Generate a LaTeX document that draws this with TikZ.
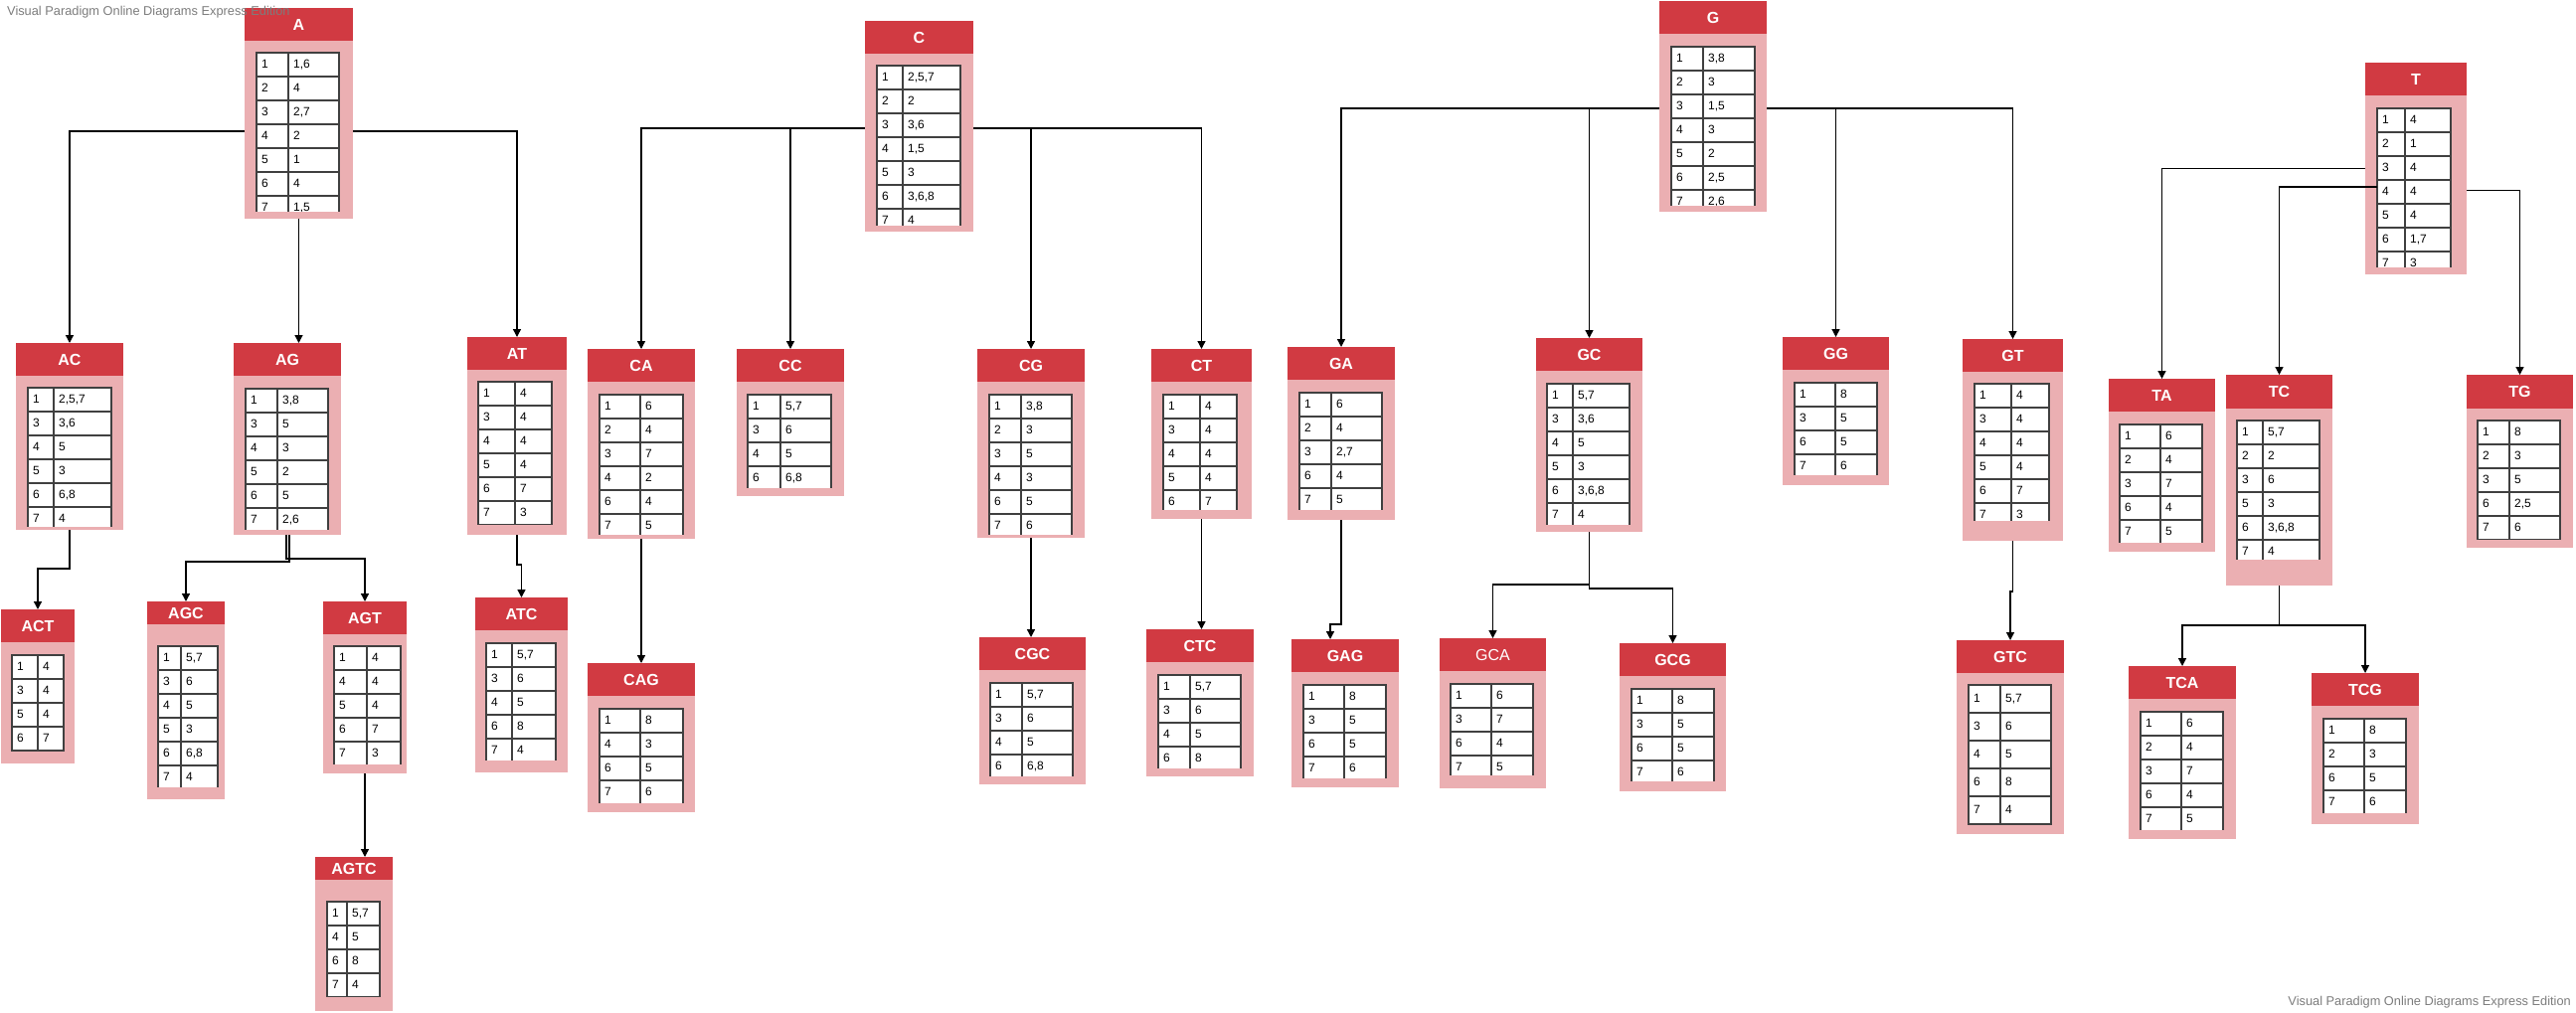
\documentclass[tikz,border=0pt]{standalone}
\usepackage{fontspec}
\setmainfont{Liberation Sans}
\usetikzlibrary{arrows.meta,backgrounds}
\definecolor{hdrred}{RGB}{209,58,66}
\definecolor{bodypink}{RGB}{235,175,178}
\definecolor{cellline}{RGB}{64,64,64}
\definecolor{wmgray}{RGB}{125,125,125}
\tikzset{
  bodybox/.style={fill=bodypink, draw=none, inner sep=0pt, outer sep=0pt, anchor=north west},
  hdrbox/.style={fill=hdrred, draw=none, inner sep=0pt, outer sep=0pt, anchor=north west, text=white, font=\fontsize{16}{18}\selectfont\bfseries},
  cellbox/.style={fill=white, draw=cellline, line width=2pt},
  celltxt/.style={anchor=west, inner sep=0pt, text height=8.6pt, text depth=1pt, font=\fontsize{12}{14}\selectfont},
  conn/.style={draw=black, line width=1.4pt, -{Triangle[length=8pt,width=8pt]}},
  wm/.style={text=wmgray, inner sep=0pt, font=\fontsize{12.8}{14}\selectfont},
}
% name, x1, x2, top, header bottom, bottom, label
\newcommand{\ebox}[7]{%
  \node[bodybox, minimum width={#3-#2}, minimum height={#6-#4}] (#1) at (#2,#4) {};
  \node[hdrbox, minimum width={#3-#2}, minimum height={#5-#4}] (#1-h) at (#2,#4) {#7};
}
% x1, column, x2, top, row height, clip bottom, rows
\newcommand{\etab}[7]{%
  \begin{scope}
    \clip (#1-2,#4-2) rectangle (#3+2,#6);
    \foreach \a/\b [count=\i] in {#7}{
      \pgfmathsetmacro\yt{#4+(\i-1)*#5}
      \draw[cellbox] (#1,\yt) rectangle (#2,\yt+#5);
      \draw[cellbox] (#2,\yt) rectangle (#3,\yt+#5);
      \node[celltxt] (cell-#1-#4-\i-a) at (#1+5,\yt+#5/2) {\a};
      \node[celltxt] (cell-#1-#4-\i-b) at (#2+5,\yt+#5/2) {\b};
    }
  \end{scope}
}
\begin{document}
\begin{tikzpicture}[x=1pt,y=-1pt]
\useasboundingbox (0,0) rectangle (2591,1019);

% ---------- A family ----------
\ebox{A}{246}{355}{8}{41}{220}{A}
\etab{258}{290}{341}{53}{24}{213}{1/{1,6},2/4,3/{2,7},4/2,5/1,6/4,7/{1,5}}
\ebox{AC}{16}{124}{345}{378}{533}{AC}
\etab{28}{54}{112}{390}{24}{529}{1/{2,5,7},3/{3,6},4/5,5/3,6/{6,8},7/4}
\ebox{AG}{235}{343}{345}{378}{538}{AG}
\etab{247}{279}{330}{391}{24}{532}{1/{3,8},3/5,4/3,5/2,6/5,7/{2,6}}
\ebox{AT}{470}{570}{339}{372}{538}{AT}
\etab{481}{518}{555}{384}{24}{527}{1/4,3/4,4/4,5/4,6/7,7/3}
\ebox{ACT}{1}{75}{613}{646}{768}{ACT}
\etab{12}{38}{64}{659}{24}{757}{1/4,3/4,5/4,6/7}
\ebox{AGC}{148}{226}{605}{628}{804}{AGC}
\etab{159}{182}{219}{650}{24}{791}{1/{5,7},3/6,4/5,5/3,6/{6,8},7/4}
\ebox{AGT}{325}{409}{605}{638}{778}{AGT}
\etab{336}{369}{403}{650}{24}{768}{1/4,4/4,5/4,6/7,7/3}
\ebox{AGTC}{317}{395}{862}{885}{1017}{AGTC}
\etab{329}{349}{382}{907}{24}{1002}{1/{5,7},4/5,6/8,7/4}
\ebox{ATC}{478}{571}{601}{634}{777}{ATC}
\etab{489}{515}{559}{647}{24}{764}{1/{5,7},3/6,4/5,6/8,7/4}

% ---------- C family ----------
\ebox{C}{870}{979}{21}{54}{233}{C}
\etab{882}{908}{966}{66}{24}{227}{1/{2,5,7},2/2,3/{3,6},4/{1,5},5/3,6/{3,6,8},7/4}
\ebox{CA}{591}{699}{351}{384}{542}{CA}
\etab{603}{644}{687}{397}{24}{537}{1/6,2/4,3/7,4/2,6/4,7/5}
\ebox{CC}{741}{849}{351}{384}{499}{CC}
\etab{752}{785}{836}{397}{24}{490}{1/{5,7},3/6,4/5,6/{6,8}}
\ebox{CG}{983}{1091}{351}{384}{541}{CG}
\etab{995}{1027}{1078}{397}{24}{537}{1/{3,8},2/3,3/5,4/3,6/5,7/6}
\ebox{CT}{1158}{1259}{351}{384}{522}{CT}
\etab{1170}{1207}{1244}{397}{24}{512}{1/4,3/4,4/4,5/4,6/7}
\ebox{CAG}{591}{699}{667}{700}{817}{CAG}
\etab{603}{644}{687}{713}{24}{807}{1/8,4/3,6/5,7/6}
\ebox{CGC}{985}{1092}{641}{674}{789}{CGC}
\etab{996}{1028}{1079}{687}{24}{780}{1/{5,7},3/6,4/5,6/{6,8}}
\ebox{CTC}{1153}{1261}{633}{666}{781}{CTC}
\etab{1165}{1197}{1248}{679}{24}{772}{1/{5,7},3/6,4/5,6/8}

% ---------- G family ----------
\ebox{G}{1669}{1777}{1}{34}{213}{G}
\etab{1681}{1713}{1765}{47}{24}{207}{1/{3,8},2/3,3/{1,5},4/3,5/2,6/{2,5},7/{2,6}}
\ebox{GA}{1295}{1403}{349}{382}{523}{GA}
\etab{1307}{1339}{1390}{395}{24}{512}{1/6,2/4,3/{2,7},6/4,7/5}
\ebox{GAG}{1299}{1407}{643}{676}{792}{GAG}
\etab{1311}{1352}{1394}{689}{24}{782}{1/8,3/5,6/5,7/6}
\ebox{GC}{1545}{1652}{340}{373}{535}{GC}
\etab{1556}{1582}{1639}{386}{24}{527}{1/{5,7},3/{3,6},4/5,5/3,6/{3,6,8},7/4}
\ebox{GCA}{1448}{1555}{642}{675}{793}{\mdseries GCA}
\etab{1459}{1500}{1542}{688}{24}{779}{1/6,3/7,6/4,7/5}
\ebox{GCG}{1629}{1736}{647}{680}{796}{GCG}
\etab{1641}{1682}{1724}{693}{24}{785}{1/8,3/5,6/5,7/6}
\ebox{GG}{1793}{1900}{339}{372}{488}{GG}
\etab{1805}{1846}{1888}{385}{24}{477}{1/8,3/5,6/5,7/6}
\ebox{GT}{1974}{2075}{341}{374}{544}{GT}
\etab{1986}{2023}{2061}{386}{24}{523}{1/4,3/4,4/4,5/4,6/7,7/3}
\ebox{GTC}{1968}{2076}{644}{677}{839}{GTC}
\etab{1980}{2012}{2063}{689}{28}{831}{1/{5,7},3/6,4/5,6/8,7/4}

% ---------- T family ----------
\ebox{T}{2379}{2481}{63}{96}{276}{T}
\etab{2391}{2419}{2465}{109}{24}{268}{1/4,2/1,3/4,4/4,5/4,6/{1,7},7/3}
\ebox{TA}{2121}{2228}{381}{414}{555}{TA}
\etab{2132}{2173}{2215}{427}{24}{545}{1/6,2/4,3/7,6/4,7/5}
\ebox{TC}{2239}{2346}{377}{411}{589}{TC}
\etab{2250}{2276}{2333}{423}{24}{562}{1/{5,7},2/2,3/6,5/3,6/{3,6,8},7/4}
\ebox{TG}{2481}{2588}{377}{411}{551}{TG}
\etab{2492}{2524}{2575}{423}{24}{542}{1/8,2/3,3/5,6/{2,5},7/6}
\ebox{TCA}{2141}{2249}{670}{703}{844}{TCA}
\etab{2153}{2194}{2236}{716}{24}{834}{1/6,2/4,3/7,6/4,7/5}
\ebox{TCG}{2325}{2433}{677}{710}{829}{TCG}
\etab{2337}{2378}{2420}{723}{24}{817}{1/8,2/3,6/5,7/6}

% ---------- connectors ----------
\begin{pgfonlayer}{background}
  \fill[white] (0,0) rectangle (2591,1019);
  \coordinate (jA) at (300,132);
  \draw[conn] (jA) -| (AC.north);
  \draw[conn] (jA) -| (AT.north);
  \draw[conn] (A.south) -- (A.south |- AG.north);
  \draw[conn] (AC.south) -- ++(0,39) -| (ACT.north);
  \draw[conn] ([xshift=2pt]AG.south) -- ++(0,27) -| (AGC.north);
  \draw[conn] ([xshift=-1pt]AG.south) -- ++(0,24) -| (AGT.north);
  \draw[conn] (AGT.south) -- (AGT.south |- AGTC.north);
  \draw[conn] (AT.south) -- ++(0,30) -| (ATC.north);

  \coordinate (jC) at (924,129);
  \draw[conn] (jC) -| (CA.north);
  \draw[conn] (jC) -| (CC.north);
  \draw[conn] (jC) -| (CG.north);
  \draw[conn] (jC) -| (CT.north);
  \draw[conn] (CA.south) -- (CA.south |- CAG.north);
  \draw[conn] (CG.south) -- (CG.south |- CGC.north);
  \draw[conn] (CT.south) -- (CT.south |- CTC.north);

  \coordinate (jG) at (1723,109);
  \draw[conn] (jG) -| (GA.north);
  \draw[conn] (jG) -| (GC.north);
  \draw[conn] (jG) -| (GG.north);
  \draw[conn] (jG) -| (GT.north);
  \draw[conn] (GA.south) -- ++(0,105) -| ([xshift=-15pt]GAG.north);
  \draw[conn] (GC.south) -- ++(0,53) -| (GCA.north);
  \draw[conn] (GC.south) -- ++(0,57) -| (GCG.north);
  \draw[conn] (GT.south) -- ++(0,51) -| (GTC.north);

  \draw[conn] (T.west) -| (TA.north);
  \draw[conn] ([yshift=-22pt]T.east) -| (TG.north);
  \draw[conn] (TC.south) -- ++(0,40) -| (TCA.north);
  \draw[conn] (TC.south) -- ++(0,40) -| (TCG.north);
\end{pgfonlayer}
\coordinate (tT) at (2391,188);
\draw[conn] (tT) -| (TC.north);

% ---------- watermarks ----------
\node[wm, anchor=west] (wm1) at (7,12) {Visual Paradigm Online Diagrams Express Edition};
\node[wm, anchor=east] (wm2) at (2586,1008) {Visual Paradigm Online Diagrams Express Edition};
\end{tikzpicture}
\end{document}
